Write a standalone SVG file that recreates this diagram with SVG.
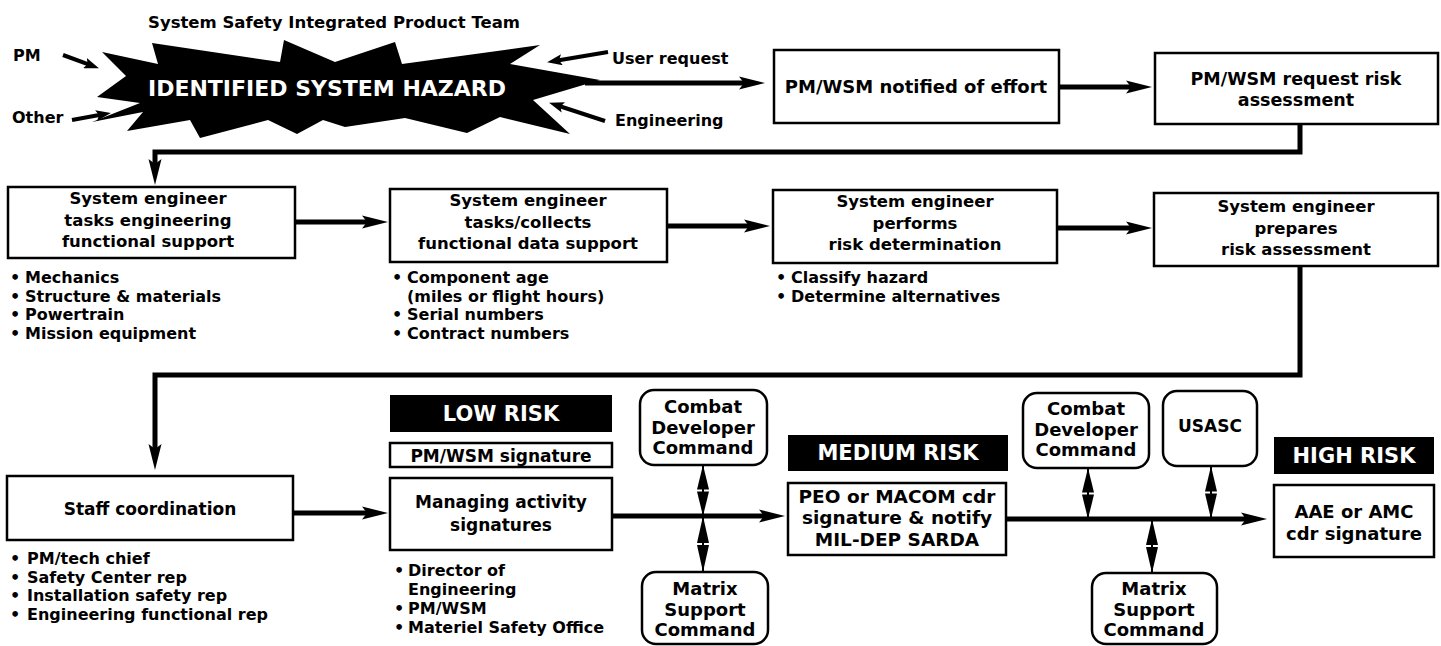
<svg xmlns="http://www.w3.org/2000/svg" width="1441" height="646" viewBox="0 0 1441 646">
<style>
.box{fill:#fff;stroke:#000;stroke-width:2.5}
.blk{fill:#000}
.t{font-family:"DejaVu Sans","Liberation Sans",sans-serif;font-weight:700;font-size:18px;fill:#000}
.s{font-size:16px}
.r2{font-size:16.5px}
.lb{font-size:16px}
.c{text-anchor:middle}
.w{fill:#fff;font-size:21px}
.ln{stroke:#000;stroke-width:5;fill:none}
.lns{stroke:#000;stroke-width:4;fill:none}
.dbl{fill:#000;stroke:none}
</style>
<defs>
<marker id="ab" markerUnits="userSpaceOnUse" markerWidth="26" markerHeight="14" refX="14" refY="7" orient="auto"><path d="M0,0.5 L26,7 L0,13.5 L5,7 Z" fill="#000"/></marker>
<marker id="as" markerUnits="userSpaceOnUse" markerWidth="16" markerHeight="11" refX="6" refY="5.5" orient="auto"><path d="M0,0 L15,5.5 L0,11 L3,5.5 Z" fill="#000"/></marker>
</defs>

<g id="hazard">
<polygon points="102,52 158,64 152,43 280,62 284,40 335,62 395,42 402,64 540,45 510,64 600,80 533,100 570,134 500,117 467,133 405,118 345,127 323,120 297,134 268,120 200,138 190,120 127,131 143,112 92,122 140,103 97,97 126,76" fill="#000"/>
<text class="t c w" x="327" y="96" style="font-size:22px">IDENTIFIED SYSTEM HAZARD</text>
</g>
<g id="labels-top">
<text class="t" x="148" y="28" style="font-size:16.5px">System Safety Integrated Product Team</text>
<text class="t lb" x="13" y="61">PM</text>
<text class="t lb" x="12" y="123">Other</text>
<text class="t lb" x="612" y="64">User request</text>
<text class="t lb" x="615" y="126">Engineering</text>
</g>

<g id="n-notified">
<rect class="box" x="774" y="50" width="285" height="73"/>
<text class="t c" x="916" y="93">PM/WSM notified of effort</text>
</g>
<g id="n-request">
<rect class="box" x="1155" y="53" width="283" height="71"/>
<text class="t c" x="1296" y="85" style="font-size:17.5px">PM/WSM request risk</text>
<text class="t c" x="1296" y="106" style="font-size:17.5px">assessment</text>
</g>

<g id="n-tasks">
<rect class="box" x="8" y="187" width="287" height="71"/>
<text class="t c r2" x="148" y="204">System engineer</text>
<text class="t c r2" x="148" y="226">tasks engineering</text>
<text class="t c r2" x="148" y="247">functional support</text>
<text class="t s" x="10" y="283">•<tspan x="25">Mechanics</tspan></text>
<text class="t s" x="10" y="302">•<tspan x="25">Structure &amp; materials</tspan></text>
<text class="t s" x="10" y="320">•<tspan x="25">Powertrain</tspan></text>
<text class="t s" x="10" y="339">•<tspan x="25">Mission equipment</tspan></text>
</g>
<g id="n-collects">
<rect class="box" x="390" y="189" width="277" height="73"/>
<text class="t c r2" x="528" y="206">System engineer</text>
<text class="t c r2" x="528" y="228">tasks/collects</text>
<text class="t c r2" x="528" y="249">functional data support</text>
<text class="t s" x="392" y="283">•<tspan x="407">Component age</tspan></text>
<text class="t s" x="407" y="302">(miles or flight hours)</text>
<text class="t s" x="392" y="320">•<tspan x="407">Serial numbers</tspan></text>
<text class="t s" x="392" y="339">•<tspan x="407">Contract numbers</tspan></text>
</g>
<g id="n-determination">
<rect class="box" x="773" y="190" width="284" height="73"/>
<text class="t c r2" x="915" y="207">System engineer</text>
<text class="t c r2" x="915" y="229">performs</text>
<text class="t c r2" x="915" y="250">risk determination</text>
<text class="t s" x="776" y="283">•<tspan x="791">Classify hazard</tspan></text>
<text class="t s" x="776" y="302">•<tspan x="791">Determine alternatives</tspan></text>
</g>
<g id="n-prepares">
<rect class="box" x="1154" y="193" width="284" height="73"/>
<text class="t c r2" x="1296" y="212">System engineer</text>
<text class="t c r2" x="1296" y="234">prepares</text>
<text class="t c r2" x="1296" y="255">risk assessment</text>
</g>

<g id="n-staff">
<rect class="box" x="7" y="476" width="286" height="64"/>
<text class="t c" x="150" y="515" style="font-size:17px">Staff coordination</text>
<text class="t s" x="10" y="564">•<tspan x="27">PM/tech chief</tspan></text>
<text class="t s" x="10" y="583">•<tspan x="27">Safety Center rep</tspan></text>
<text class="t s" x="10" y="601">•<tspan x="27">Installation safety rep</tspan></text>
<text class="t s" x="10" y="620">•<tspan x="27">Engineering functional rep</tspan></text>
</g>

<g id="n-low">
<rect class="blk" x="390" y="395" width="222" height="37"/>
<text class="t c w" x="501" y="421">LOW RISK</text>
<rect class="box" x="390" y="443" width="222" height="24"/>
<text class="t c" x="501" y="462" style="font-size:17px">PM/WSM signature</text>
<rect class="box" x="390" y="478" width="222" height="72"/>
<text class="t c" x="501" y="508" style="font-size:17px">Managing activity</text>
<text class="t c" x="501" y="531" style="font-size:17px">signatures</text>
<text class="t s" x="394" y="576">•<tspan x="408">Director of</tspan></text>
<text class="t s" x="408" y="595">Engineering</text>
<text class="t s" x="394" y="614">•<tspan x="408">PM/WSM</tspan></text>
<text class="t s" x="394" y="633">•<tspan x="408">Materiel Safety Office</tspan></text>
</g>

<g id="n-combat1">
<rect class="box" x="640" y="390" width="127" height="75" rx="14"/>
<text class="t c" x="703" y="413">Combat</text>
<text class="t c" x="703" y="434">Developer</text>
<text class="t c" x="703" y="454">Command</text>
</g>
<g id="n-matrix1">
<rect class="box" x="642" y="572" width="126" height="72" rx="14"/>
<text class="t c" x="705" y="595">Matrix</text>
<text class="t c" x="705" y="616">Support</text>
<text class="t c" x="705" y="636">Command</text>
</g>

<g id="n-medium">
<rect class="blk" x="788" y="435" width="220" height="36"/>
<text class="t c w" x="898" y="460">MEDIUM RISK</text>
<rect class="box" x="788" y="483" width="218" height="72"/>
<text class="t c" x="897" y="503" style="font-size:18.5px">PEO or MACOM cdr</text>
<text class="t c" x="897" y="524" style="font-size:18.5px">signature &amp; notify</text>
<text class="t c" x="897" y="546" style="font-size:18.5px">MIL-DEP SARDA</text>
</g>

<g id="n-combat2">
<rect class="box" x="1023" y="393" width="126" height="75" rx="14"/>
<text class="t c" x="1086" y="415">Combat</text>
<text class="t c" x="1086" y="436">Developer</text>
<text class="t c" x="1086" y="456">Command</text>
</g>
<g id="n-usasc">
<rect class="box" x="1163" y="391" width="94" height="75" rx="14"/>
<text class="t c" x="1210" y="432" style="font-size:17px">USASC</text>
</g>
<g id="n-matrix2">
<rect class="box" x="1092" y="573" width="125" height="71" rx="14"/>
<text class="t c" x="1154" y="595">Matrix</text>
<text class="t c" x="1154" y="616">Support</text>
<text class="t c" x="1154" y="636">Command</text>
</g>

<g id="n-high">
<rect class="blk" x="1274" y="437" width="160" height="37"/>
<text class="t c w" x="1354" y="463">HIGH RISK</text>
<rect class="box" x="1274" y="485" width="160" height="72"/>
<text class="t c" x="1354" y="518">AAE or AMC</text>
<text class="t c" x="1354" y="540">cdr signature</text>
</g>

<g id="connectors">
<line class="lns" x1="63" y1="55" x2="90.5" y2="65.2" marker-end="url(#as)"/>
<line class="lns" x1="72" y1="120" x2="102" y2="114.5" marker-end="url(#as)"/>
<line class="lns" x1="608" y1="52" x2="556" y2="60.7" marker-end="url(#as)"/>
<line class="lns" x1="605" y1="121" x2="557.6" y2="105.5" marker-end="url(#as)"/>
<line class="ln" x1="585" y1="83" x2="753" y2="83" marker-end="url(#ab)"/>
<line class="ln" x1="1059" y1="87" x2="1140" y2="87" marker-end="url(#ab)"/>
<path class="ln" d="M1300,124 V152 H155 V173" marker-end="url(#ab)"/>
<line class="ln" x1="295" y1="222" x2="376" y2="222" marker-end="url(#ab)"/>
<line class="ln" x1="667" y1="226" x2="758" y2="226" marker-end="url(#ab)"/>
<line class="ln" x1="1057" y1="228" x2="1140" y2="228" marker-end="url(#ab)"/>
<path class="ln" d="M1300,266 V375 H155 V458" marker-end="url(#ab)"/>
<line class="ln" x1="293" y1="513" x2="376" y2="513" marker-end="url(#ab)"/>
<line class="ln" x1="612" y1="516" x2="773" y2="516" marker-end="url(#ab)"/>
<line class="ln" x1="1006" y1="519" x2="1255" y2="519" marker-end="url(#ab)"/>
<g class="dbl">
<line x1="703" y1="465" x2="703" y2="516" stroke="#000" stroke-width="2"/>
<polygon points="703,465 709,489.5 697,489.5"/><polygon points="697,491.5 709,491.5 703,516"/>
<line x1="703" y1="516" x2="703" y2="572" stroke="#000" stroke-width="2"/>
<polygon points="703,516 709,543 697,543"/><polygon points="697,545 709,545 703,572"/>
<line x1="1088" y1="468" x2="1088" y2="519" stroke="#000" stroke-width="2"/>
<polygon points="1088,468 1094,492.5 1082,492.5"/><polygon points="1082,494.5 1094,494.5 1088,519"/>
<line x1="1211" y1="466" x2="1211" y2="519" stroke="#000" stroke-width="2"/>
<polygon points="1211,466 1217,491.5 1205,491.5"/><polygon points="1205,493.5 1217,493.5 1211,519"/>
<line x1="1152" y1="519" x2="1152" y2="573" stroke="#000" stroke-width="2"/>
<polygon points="1152,519 1158,545 1146,545"/><polygon points="1146,547 1158,547 1152,573"/>
</g>
</g>
</svg>
